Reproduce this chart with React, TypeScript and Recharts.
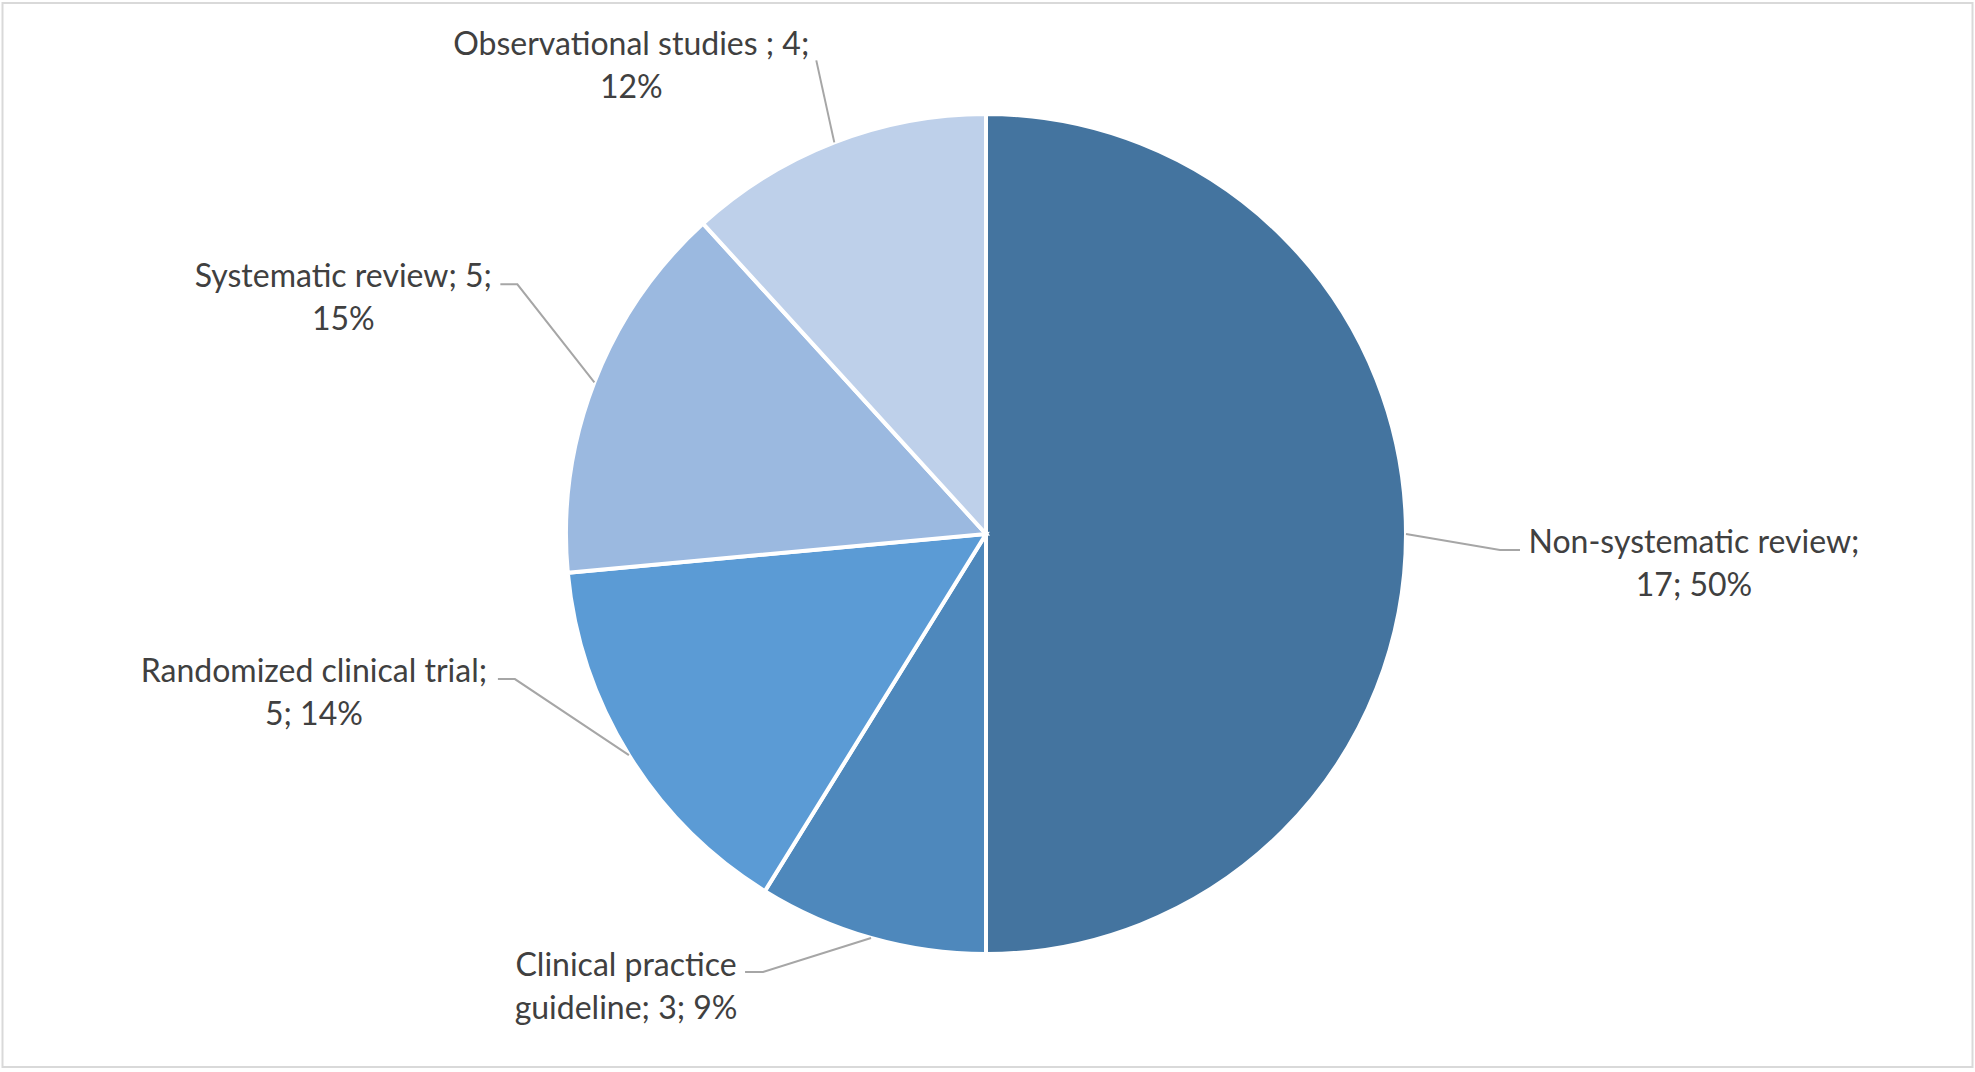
import React from "react";
import { PieChart, Pie, Cell } from "recharts";

const categories = [
  "Non-systematic review",
  "Clinical practice guideline",
  "Randomized clinical trial",
  "Systematic review",
  "Observational studies ",
];
const counts = [17, 3, 5, 5, 4];
const percentLabels = ["50%", "9%", "14%", "15%", "12%"];
const labelLines = [
  ["Non-systematic review;", "17; 50%"],
  ["Clinical practice", "guideline; 3; 9%"],
  ["Randomized clinical trial;", "5; 14%"],
  ["Systematic review; 5;", "15%"],
  ["Observational studies ; 4;", "12%"],
];
const colors = ["#44749F", "#4E88BC", "#5B9BD5", "#9BB9E0", "#BED0EA"];

// label layout: elbow offset from slice edge, tail length, text center offset from tail end
const labelLayout = [
  { ex: 94, ey: 16, tail: 20, tx: 174, ty: -10 },
  { ex: -108, ey: 34, tail: -18, tx: -119, ty: -8 },
  { ex: -114, ey: -76, tail: -17, tx: -184, ty: -10 },
  { ex: -77, ey: -98, tail: -17, tx: -157, ty: -10 },
  { ex: -18, ey: -82, tail: 0, tx: -185, ty: -18 },
];

const data = categories.map((name, i) => ({
  name,
  value: counts[i],
  pct: percentLabels[i],
}));

const W = 1975;
const H = 1072;
const CX = 986;
const CY = 534;
const R = 420;
const RAD = Math.PI / 180;
const FONT = 32;

const renderLabel = (props: any) => {
  const { midAngle, index } = props;
  const cx = props.cx ?? CX;
  const cy = props.cy ?? CY;
  const r = props.outerRadius ?? R;
  const x0 = cx + r * Math.cos(-midAngle * RAD);
  const y0 = cy + r * Math.sin(-midAngle * RAD);
  const L = labelLayout[index];
  const x1 = x0 + L.ex;
  const y1 = y0 + L.ey;
  const x2 = x1 + L.tail;
  const tcx = x2 + L.tx;
  const tcy = y1 + L.ty;
  const lines = labelLines[index];
  return (
    <g key={`lbl-${index}`}>
      <polyline
        points={`${x0},${y0} ${x1},${y1} ${x2},${y1}`}
        fill="none"
        stroke="#A6A6A6"
        strokeWidth={2}
      />
      <text
        x={tcx}
        y={tcy}
        textAnchor="middle"
        dominantBaseline="central"
        fill="#404040"
        fontSize={FONT}
        fontFamily="Lato, 'Open Sans', sans-serif"
      >
        {lines[0]}
      </text>
      <text
        x={tcx}
        y={tcy + 43}
        textAnchor="middle"
        dominantBaseline="central"
        fill="#404040"
        fontSize={FONT}
        fontFamily="Lato, 'Open Sans', sans-serif"
      >
        {lines[1]}
      </text>
    </g>
  );
};

export default function App() {
  return (
    <div style={{ position: "absolute", left: 0, top: 0, width: W, height: H, background: "#fff" }}>
      <svg
        width={W}
        height={H}
        style={{ position: "absolute", left: 0, top: 0 }}
      >
        <rect x={2.5} y={3} width={1970} height={1064} fill="#fff" stroke="#D9D9D9" strokeWidth={2} />
      </svg>
      <div style={{ position: "absolute", left: 0, top: 0 }}>
        <PieChart width={W} height={H} margin={{ top: 0, right: 0, bottom: 0, left: 0 }}>
          <Pie
            data={data}
            dataKey="value"
            nameKey="name"
            cx={CX}
            cy={CY}
            outerRadius={R}
            startAngle={90}
            endAngle={-270}
            stroke="#FFFFFF"
            strokeWidth={4}
            label={renderLabel}
            labelLine={false}
            isAnimationActive={false}
          >
            {data.map((d, i) => (
              <Cell key={d.name} fill={colors[i]} />
            ))}
          </Pie>
        </PieChart>
      </div>
    </div>
  );
}
